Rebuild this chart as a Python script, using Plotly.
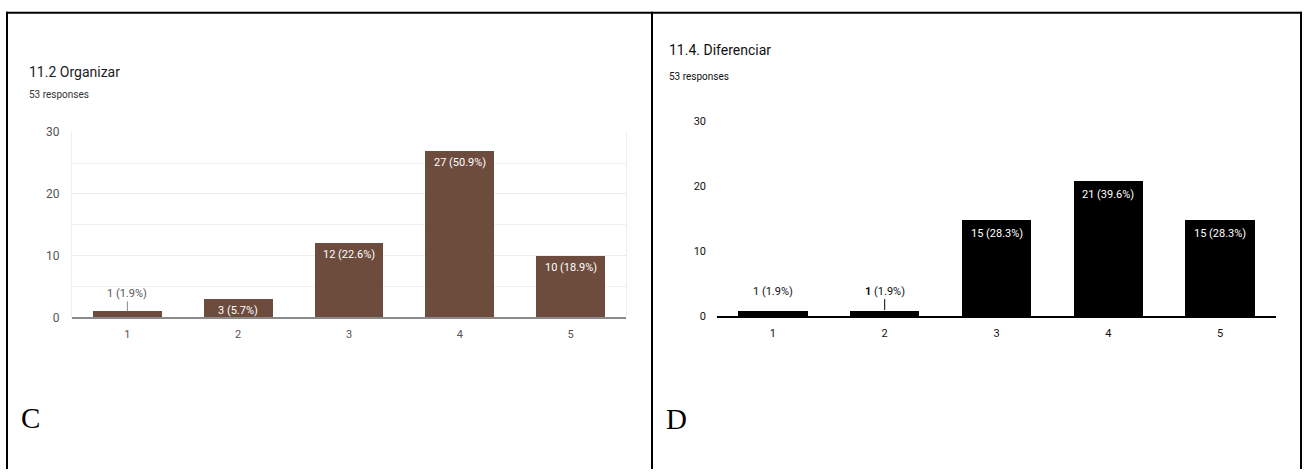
import plotly.graph_objects as go

W, H = 1307, 474

categories = [1, 2, 3, 4, 5]
category_labels = ["1", "2", "3", "4", "5"]
total_responses = 53

organizar_counts = [1, 3, 12, 27, 10]
diferenciar_counts = [1, 1, 15, 21, 15]

y_tick_vals = [0, 10, 20, 30]
y_tick_text = ["0", "10", "20", "30"]

title_c = "11.2 Organizar"
title_d = "11.4. Diferenciar"
subtitle = f"{total_responses} responses"

brown = "#6d4c3d"
black = "#000000"
FONT = "Roboto"


def px_x(p):
    return p / W


def px_y(p):
    return (H - p) / H


def label(c):
    return f"{c} ({c / total_responses * 100:.1f}%)"


fig = go.Figure()

fig.add_trace(go.Bar(x=categories, y=organizar_counts, marker=dict(color=brown, line=dict(width=0)),
                     width=0.62, xaxis="x", yaxis="y", hoverinfo="skip"))
fig.add_trace(go.Bar(x=categories, y=diferenciar_counts, marker=dict(color=black, line=dict(width=0)),
                     width=0.62, xaxis="x2", yaxis="y2", hoverinfo="skip"))

annotations = []

# left chart labels
for cat, c in zip(categories, organizar_counts):
    if c >= 3:
        annotations.append(dict(x=cat, y=c, xref="x", yref="y", text=label(c), showarrow=False,
                                yanchor="top", yshift=-3,
                                font=dict(family=FONT, size=11, color="#ffffff")))
    else:
        annotations.append(dict(x=cat, y=c, xref="x", yref="y", text=label(c), showarrow=True,
                                arrowhead=0, arrowwidth=1, arrowcolor="#8a8a8a", ax=0, ay=-18,
                                standoff=0, font=dict(family=FONT, size=11, color="#555555")))

# right chart labels
for i, (cat, c) in enumerate(zip(categories, diferenciar_counts)):
    if c >= 3:
        annotations.append(dict(x=cat, y=c, xref="x2", yref="y2", text=label(c), showarrow=False,
                                yanchor="top", yshift=-6,
                                font=dict(family=FONT, size=11, color="#ffffff")))
    elif i == 0:
        annotations.append(dict(x=cat, y=c, xref="x2", yref="y2", text=label(c), showarrow=False,
                                yanchor="middle", yshift=19,
                                font=dict(family=FONT, size=11, color="#111111")))
    else:
        txt = f"<b>{c}</b> ({c / total_responses * 100:.1f}%)"
        annotations.append(dict(x=cat, y=c, xref="x2", yref="y2", text=txt, showarrow=True,
                                arrowhead=0, arrowwidth=1, arrowcolor="#000000", ax=0, ay=-19,
                                standoff=0, font=dict(family=FONT, size=11, color="#111111")))

# titles
annotations += [
    dict(x=px_x(27), y=px_y(67), xref="paper", yref="paper", text=title_c, showarrow=False,
         xanchor="left", yanchor="middle", font=dict(family=FONT, size=14, color="#202124")),
    dict(x=px_x(27), y=px_y(90), xref="paper", yref="paper", text=subtitle, showarrow=False,
         xanchor="left", yanchor="middle", font=dict(family=FONT, size=10, color="#333333")),
    dict(x=px_x(667), y=px_y(44), xref="paper", yref="paper", text=title_d, showarrow=False,
         xanchor="left", yanchor="middle", font=dict(family=FONT, size=14, color="#111111")),
    dict(x=px_x(667), y=px_y(72), xref="paper", yref="paper", text=subtitle, showarrow=False,
         xanchor="left", yanchor="middle", font=dict(family=FONT, size=10, color="#111111")),
    dict(x=px_x(19), y=px_y(424), xref="paper", yref="paper", text="C", showarrow=False,
         xanchor="left", yanchor="middle", font=dict(family="Liberation Serif", size=29, color="#000000")),
    dict(x=px_x(664), y=px_y(425), xref="paper", yref="paper", text="D", showarrow=False,
         xanchor="left", yanchor="middle", font=dict(family="Liberation Serif", size=29, color="#000000")),
]

# frame lines
frame = dict(color="#000000", width=2)
shapes = [
    dict(type="line", xref="paper", yref="paper", x0=px_x(6), x1=px_x(1302), y0=px_y(6), y1=px_y(6), line=frame),
    dict(type="line", xref="paper", yref="paper", x0=px_x(7), x1=px_x(7), y0=px_y(5), y1=px_y(476), line=frame),
    dict(type="line", xref="paper", yref="paper", x0=px_x(652), x1=px_x(652), y0=px_y(5), y1=px_y(476), line=frame),
    dict(type="line", xref="paper", yref="paper", x0=px_x(1301), x1=px_x(1301), y0=px_y(5), y1=px_y(476), line=frame),
]

fig.update_layout(
    width=W, height=H,
    margin=dict(l=0, r=0, t=0, b=0),
    paper_bgcolor="white", plot_bgcolor="white",
    showlegend=False, bargap=0,
    annotations=annotations, shapes=shapes,
    xaxis=dict(domain=[px_x(72), px_x(626)], range=[0.5, 5.5], tickvals=categories, ticktext=category_labels,
               showgrid=False, showline=False, zeroline=False, ticks="",
               ticklabelstandoff=8, tickfont=dict(family=FONT, size=11, color="#555555"),
               fixedrange=True),
    yaxis=dict(domain=[px_y(320), px_y(129)], range=[0, 30], tickvals=y_tick_vals, ticktext=y_tick_text,
               showgrid=True, gridcolor="#ececec", gridwidth=1,
               minor=dict(dtick=5, showgrid=True, gridcolor="#f0f0f0", gridwidth=1),
               showline=True, mirror=True, linecolor="#eeeeee", linewidth=1,
               zeroline=True, zerolinecolor="#8a8a8a", zerolinewidth=2, ticks="",
               ticklabelstandoff=9, tickfont=dict(family=FONT, size=12, color="#555555"),
               fixedrange=True),
    xaxis2=dict(domain=[px_x(717), px_x(1276)], range=[0.5, 5.5], tickvals=categories, ticktext=category_labels,
                anchor="y2", showgrid=False, showline=False, zeroline=False, ticks="",
                ticklabelstandoff=8, tickfont=dict(family=FONT, size=11, color="#111111"),
                fixedrange=True),
    yaxis2=dict(domain=[px_y(319), px_y(118)], range=[0, 30], tickvals=y_tick_vals, ticktext=y_tick_text,
                anchor="x2", showgrid=False, showline=False,
                zeroline=True, zerolinecolor="#000000", zerolinewidth=2, ticks="",
                ticklabelstandoff=10, tickfont=dict(family=FONT, size=11, color="#111111"),
                fixedrange=True),
)

post = (
    "document.documentElement.style.margin='0';"
    "document.body.style.margin='0';"
    "document.body.style.overflow='hidden';"
    "var gd=document.getElementById('{plot_id}');"
    "gd.style.position='fixed';gd.style.top='0px';gd.style.left='0px';"
)

fig.write_html("out.html", config={"displayModeBar": False}, post_script=post)
